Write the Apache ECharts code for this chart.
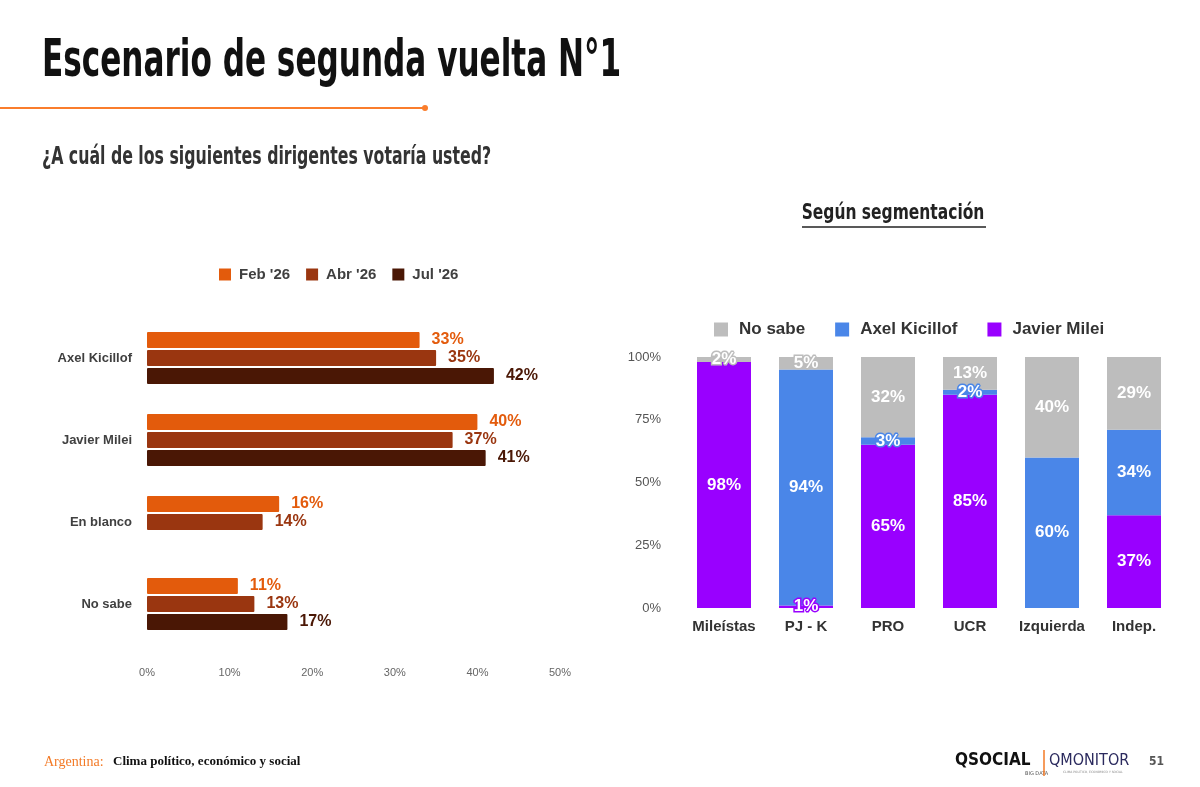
<!DOCTYPE html>
<html>
<head>
    <meta charset="utf-8">
    <title>Escenario de segunda vuelta N°1</title>
    <script src="https://cdn.jsdelivr.net/npm/echarts@6/dist/echarts.min.js"></script>
    <style>
        html, body { margin: 0; padding: 0; background: #fff; }
    </style>
</head>
<body>
    <div id="main" style="width: 1200px; height: 787px;"></div>

    <script>
        // left chart: total by wave
        var waveCats = ['Axel Kicillof', 'Javier Milei', 'En blanco', 'No sabe'];
        var waveNames = ["Feb '26", "Abr '26", "Jul '26"];
        var febValues = [33, 40, 16, 11];
        var abrValues = [35, 37, 14, 13];
        var julValues = [42, 41, null, 17];
        var waveTicks = [0, 10, 20, 30, 40, 50];

        // right chart: by segment (stacked, bottom to top)
        var segCats = ['Mileístas', 'PJ - K', 'PRO', 'UCR', 'Izquierda', 'Indep.'];
        var segNames = ['No sabe', 'Axel Kicillof', 'Javier Milei'];
        var mileiValues = [98, 1, 65, 85, 0, 37];
        var kicillofValues = [0, 94, 3, 2, 60, 34];
        var noSabeValues = [2, 5, 32, 13, 40, 29];
        var segTicks = [0, 25, 50, 75, 100];

        var waveColors = ['#e35b0c', '#9a3610', '#4a1705'];
        var segColors = { 'No sabe': '#bdbdbd', 'Axel Kicillof': '#4a86e8', 'Javier Milei': '#9900ff' };

        var chart = echarts.init(document.getElementById('main'));

        function waveSeries(name, values, i) {
            return {
                name: name,
                type: 'bar',
                xAxisIndex: 0,
                yAxisIndex: 0,
                barWidth: 16,
                barGap: '12%',
                data: values,
                itemStyle: { color: waveColors[i], borderRadius: 1 },
                label: {
                    show: true,
                    position: 'right',
                    distance: 12,
                    formatter: function (p) { return p.value == null ? '' : p.value + '%'; },
                    color: waveColors[i],
                    fontFamily: 'Liberation Sans, Arial',
                    fontWeight: 'bold',
                    fontSize: 16
                }
            };
        }

        function segSeries(name, values) {
            var color = segColors[name];
            return {
                name: name,
                type: 'bar',
                stack: 'seg',
                xAxisIndex: 1,
                yAxisIndex: 1,
                barWidth: 54,
                data: values.map(function (v) {
                    var item = { value: v };
                    if (v === 0) {
                        item.label = { show: false };
                    } else if (v <= 5) {
                        // tiny slices: outlined white text, like the original
                        item.label = { textBorderColor: color, textBorderWidth: 3 };
                    }
                    return item;
                }),
                itemStyle: { color: color },
                label: {
                    show: true,
                    position: 'inside',
                    formatter: '{c}%',
                    color: '#fff',
                    fontFamily: 'Liberation Sans, Arial',
                    fontWeight: 'bold',
                    fontSize: 17
                }
            };
        }

        var options = {
            animation: false,
            textStyle: { fontFamily: 'Liberation Sans, Arial' },
            legend: [
                {
                    data: waveNames,
                    left: 214,
                    top: 262,
                    itemWidth: 12,
                    itemHeight: 12,
                    itemGap: 16,
                    icon: 'rect',
                    textStyle: { fontSize: 15, fontWeight: 'bold', color: '#404040', padding: [0, 0, 0, 3] }
                },
                {
                    data: segNames,
                    left: 709,
                    top: 316,
                    itemWidth: 14,
                    itemHeight: 14,
                    itemGap: 30,
                    icon: 'rect',
                    textStyle: { fontSize: 17, fontWeight: 'bold', color: '#333', padding: [0, 0, 0, 6] }
                }
            ],
            grid: [
                { left: 147, top: 317, width: 413, height: 328 },
                { left: 683, top: 357, width: 492, height: 251 }
            ],
            xAxis: [
                {
                    type: 'value',
                    gridIndex: 0,
                    min: waveTicks[0],
                    max: waveTicks[waveTicks.length - 1],
                    interval: 10,
                    axisLine: { show: false },
                    axisTick: { show: false },
                    splitLine: { show: false },
                    axisLabel: { formatter: '{value}%', color: '#666', fontSize: 11, margin: 22 }
                },
                {
                    type: 'category',
                    gridIndex: 1,
                    data: segCats,
                    axisLine: { show: false },
                    axisTick: { show: false },
                    axisLabel: { interval: 0, color: '#333', fontSize: 15, fontWeight: 'bold', margin: 11 }
                }
            ],
            yAxis: [
                {
                    type: 'category',
                    gridIndex: 0,
                    inverse: true,
                    data: waveCats,
                    axisLine: { show: false },
                    axisTick: { show: false },
                    axisLabel: { color: '#404040', fontSize: 13, fontWeight: 'bold', margin: 15 }
                },
                {
                    type: 'value',
                    gridIndex: 1,
                    min: segTicks[0],
                    max: segTicks[segTicks.length - 1],
                    interval: 25,
                    axisLine: { show: false },
                    axisTick: { show: false },
                    splitLine: { show: false },
                    axisLabel: { formatter: '{value}%', color: '#555', fontSize: 13, margin: 22 }
                }
            ],
            series: [
                waveSeries(waveNames[0], febValues, 0),
                waveSeries(waveNames[1], abrValues, 1),
                waveSeries(waveNames[2], julValues, 2),
                segSeries('Javier Milei', mileiValues),
                segSeries('Axel Kicillof', kicillofValues),
                segSeries('No sabe', noSabeValues)
            ],
            graphic: [
                {
                    type: 'text',
                    left: 42, top: 36,
                    scaleX: 0.665,
                    style: {
                        text: 'Escenario de segunda vuelta N°1',
                        font: 'bold 52px "DejaVu Sans Condensed"',
                        fill: '#111'
                    }
                },
                {
                    type: 'line',
                    shape: { x1: 0, y1: 108, x2: 425, y2: 108 },
                    style: { stroke: '#fa7d2c', lineWidth: 2 }
                },
                {
                    type: 'circle',
                    shape: { cx: 425, cy: 108, r: 3 },
                    style: { fill: '#fa7d2c' }
                },
                {
                    type: 'text',
                    left: 42, top: 146,
                    scaleX: 0.73,
                    style: {
                        text: '¿A cuál de los siguientes dirigentes votaría usted?',
                        font: 'bold 24px "DejaVu Sans Condensed"',
                        fill: '#333'
                    }
                },
                {
                    type: 'text',
                    x: 893, y: 203,
                    scaleX: 0.82,
                    style: {
                        text: 'Según segmentación',
                        font: 'bold 21px "DejaVu Sans Condensed"',
                        fill: '#222',
                        align: 'center'
                    }
                },
                {
                    type: 'line',
                    shape: { x1: 802, y1: 227, x2: 986, y2: 227 },
                    style: { stroke: '#222', lineWidth: 1.5 }
                },
                {
                    type: 'text',
                    left: 44, top: 755,
                    style: {
                        text: 'Argentina:',
                        font: '14px "Liberation Serif"',
                        fill: '#f37a26'
                    }
                },
                {
                    type: 'text',
                    left: 113, top: 755,
                    style: {
                        text: 'Clima político, económico y social',
                        font: 'bold 13px "Liberation Serif"',
                        fill: '#111'
                    }
                },
                {
                    type: 'text',
                    left: 955, top: 752,
                    style: {
                        text: 'QSOCIAL',
                        font: 'bold 17px "DejaVu Sans Condensed"',
                        fill: '#111'
                    }
                },
                {
                    type: 'text',
                    left: 1025, top: 771,
                    style: { text: 'BIG DATA', font: '5px "DejaVu Sans"', fill: '#555' }
                },
                {
                    type: 'line',
                    shape: { x1: 1044, y1: 750, x2: 1044, y2: 776 },
                    style: { stroke: '#f37a26', lineWidth: 1.5 }
                },
                {
                    type: 'text',
                    left: 1049, top: 753,
                    style: {
                        text: 'QMONITOR',
                        font: '16px "DejaVu Sans Condensed"',
                        fill: '#2b2a5e'
                    }
                },
                {
                    type: 'text',
                    left: 1063, top: 771,
                    style: { text: 'CLIMA POLÍTICO, ECONÓMICO Y SOCIAL', font: '3px "DejaVu Sans"', fill: '#888' }
                },
                {
                    type: 'text',
                    left: 1149, top: 756,
                    style: { text: '51', font: 'bold 12px "DejaVu Sans Condensed"', fill: '#555' }
                }
            ]
        };

        chart.setOption(options);
    </script>
</body>
</html>
